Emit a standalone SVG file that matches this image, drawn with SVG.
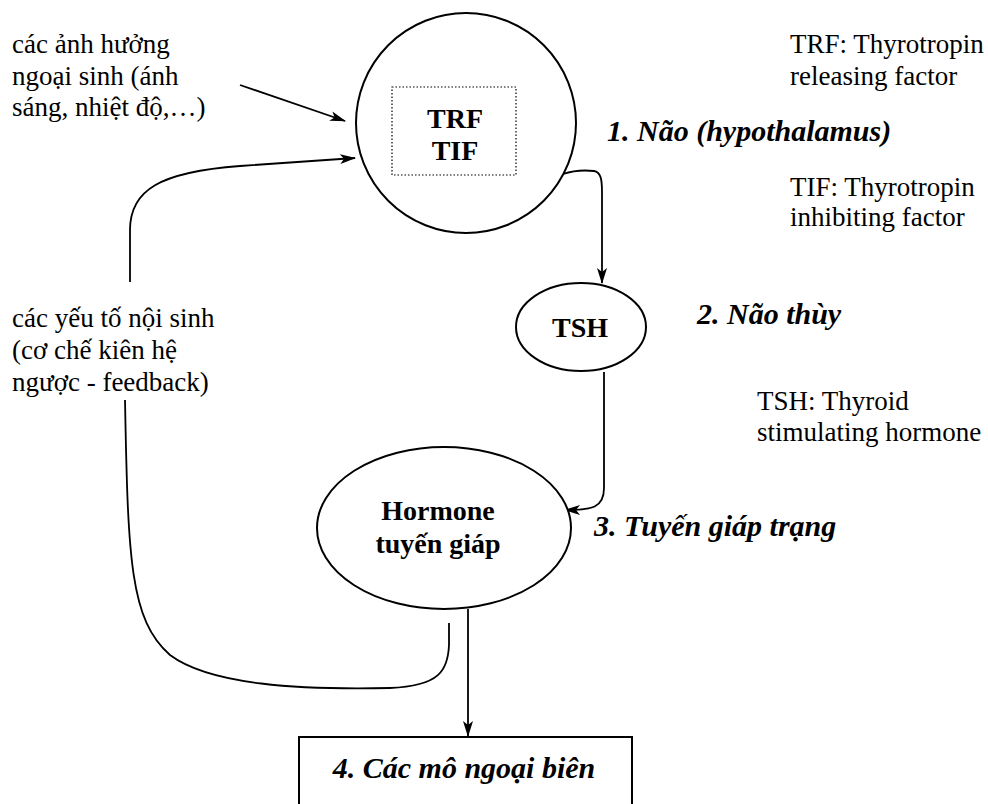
<svg xmlns="http://www.w3.org/2000/svg" width="988" height="804" viewBox="0 0 988 804">
<defs>
<marker id="ah" markerWidth="16" markerHeight="10" refX="15" refY="5" orient="auto" markerUnits="userSpaceOnUse">
<path d="M0,0 L16,5 L0,10 L4,5 Z" fill="#000"/>
</marker>
<style>
text{font-family:'Liberation Serif','Times New Roman',Times,serif;fill:#000}
.t{font-size:27px}
.b{font-size:28px;font-weight:bold;text-anchor:middle}
.bi{font-size:30px;font-weight:bold;font-style:italic}
.shape{fill:#fff;stroke:#000;stroke-width:2}
.c{fill:none;stroke:#000;stroke-width:1.8}
</style>
</defs>
<rect width="988" height="804" fill="#fff"/>
<g id="connectors">
<path class="c" d="M240,85 L345,121" marker-end="url(#ah)"/>
<path class="c" d="M130,282 L130,230 C130,190 160,172 240,166 L355,158" marker-end="url(#ah)"/>
<path class="c" d="M563,174 C575,170 585,170 594,171 C601,172 602,180 602,192 L602,283" marker-end="url(#ah)"/>
<path class="c" d="M604,372 L604,488 C604,508 592,510 565,510" marker-end="url(#ah)"/>
<path class="c" d="M468,609 L468,736" marker-end="url(#ah)"/>
<path class="c" d="M125,400 C128,560 130,620 170,655 C210,685 300,690 390,688 C440,686 448,670 449,645 L449,623"/>
</g>
<g id="node-hypothalamus">
<circle class="shape" cx="466" cy="123" r="110"/>
<rect x="392" y="87" width="124" height="88" fill="none" stroke="#000" stroke-width="1.2" stroke-dasharray="1.5,2"/>
<text class="b" x="455" y="128">TRF</text>
<text class="b" x="455" y="160">TIF</text>
</g>
<g id="node-tsh">
<ellipse class="shape" cx="581" cy="327" rx="65" ry="44"/>
<text class="b" x="580" y="337">TSH</text>
</g>
<g id="node-hormone">
<ellipse class="shape" cx="444" cy="528" rx="127" ry="81"/>
<text class="b" x="438" y="520">Hormone</text>
<text class="b" x="438" y="553">tuyến giáp</text>
</g>
<g id="node-tissue">
<rect x="299" y="737" width="333" height="80" fill="#fff" stroke="#000" stroke-width="2"/>
<text class="bi" x="464" y="778" text-anchor="middle">4. Các mô ngoại biên</text>
</g>
<g id="labels">
<text class="t" x="12" y="53">các ảnh hưởng</text>
<text class="t" x="12" y="85">ngoại sinh (ánh</text>
<text class="t" x="12" y="116">sáng, nhiệt độ,…)</text>
<text class="t" x="12" y="327">các yếu tố nội sinh</text>
<text class="t" x="12" y="359">(cơ chế kiên hệ</text>
<text class="t" x="12" y="391">ngược - feedback)</text>
<text class="t" x="790" y="53">TRF: Thyrotropin</text>
<text class="t" x="790" y="85">releasing factor</text>
<text class="t" x="790" y="196">TIF: Thyrotropin</text>
<text class="t" x="790" y="226">inhibiting factor</text>
<text class="t" x="757" y="410">TSH: Thyroid</text>
<text class="t" x="757" y="441">stimulating hormone</text>
<text class="bi" x="607" y="141">1. Não (hypothalamus)</text>
<text class="bi" x="697" y="324">2. Não thùy</text>
<text class="bi" x="594" y="536">3. Tuyến giáp trạng</text>
</g>
</svg>
